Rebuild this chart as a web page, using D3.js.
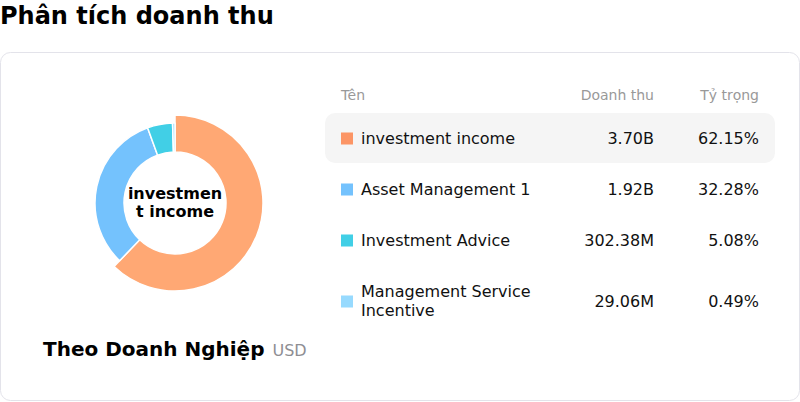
<!DOCTYPE html>
<html>
<head>
<meta charset="utf-8">
<script src="https://cdn.jsdelivr.net/npm/d3@7"></script>
<style>
  html, body { margin: 0; padding: 0; background: #fff; }
  body { width: 800px; height: 402px; overflow: hidden; font-family: "DejaVu Sans", sans-serif; }
  svg { display: block; }
</style>
</head>
<body>
<div id="chart"></div>
<script>
const categories = ["investment income", "Asset Management 1", "Investment Advice", "Management Service Incentive"];
const revenues = [3.70e9, 1.92e9, 302.38e6, 29.06e6];
const shares = [62.15, 32.28, 5.08, 0.49];
const legendColors = ["#fc9565", "#74c2fd", "#41cfe6", "#97dafe"];
const sliceColors = ["#ffa874", "#74c2fd", "#41cfe6", "#97dafe"];
const headers = ["Tên", "Doanh thu", "Tỷ trọng"];
const activeIndex = 0;

const width = 800, height = 402;

const svg = d3.select("#chart").append("svg")
    .attr("width", width)
    .attr("height", height);

// title
svg.append("text")
    .attr("x", 0)
    .attr("y", 24)
    .attr("font-size", 24)
    .attr("font-weight", "bold")
    .attr("fill", "#000")
    .text("Phân tích doanh thu");

// card
svg.append("rect")
    .attr("x", 0.5)
    .attr("y", 52.5)
    .attr("width", 799)
    .attr("height", 348)
    .attr("rx", 10)
    .attr("fill", "#fff")
    .attr("stroke", "#e3e3ea");

function formatRevenue(v) {
    if (v >= 1e9) return (v / 1e9).toFixed(2) + "B";
    if (v >= 1e6) return (v / 1e6).toFixed(2) + "M";
    return d3.format(",")(v);
}

// donut
const cx = 175, cy = 203;
const innerR = 51, outerR = 80, activeR = 88;

const pie = d3.pie().sort(null).value(d => d)(revenues);
const arc = d3.arc().innerRadius(innerR);

const g = svg.append("g").attr("transform", `translate(${cx},${cy})`);

g.selectAll("path")
    .data(pie)
    .enter()
    .append("path")
    .attr("d", (d, i) => arc.outerRadius(i === activeIndex ? activeR : outerR)(d))
    .attr("fill", (d, i) => sliceColors[i])
    .attr("stroke", "#fff")
    .attr("stroke-width", 1.5)
    .attr("stroke-linejoin", "round");

// center label, broken by character like css word-break
function breakChars(str, maxWidth, fontSize, weight) {
    const probe = svg.append("text")
        .attr("font-size", fontSize)
        .attr("font-weight", weight)
        .attr("visibility", "hidden");
    let lines = [];
    let cur = "";
    for (const ch of str) {
        probe.text(cur + ch);
        if (probe.node().getComputedTextLength() > maxWidth && cur !== "") {
            lines.push(cur);
            cur = ch === " " ? "" : ch;
        } else {
            cur += ch;
        }
    }
    if (cur) lines.push(cur);
    probe.remove();
    return lines;
}

const centerLines = breakChars(categories[activeIndex], 100, 16, "bold");
const centerText = g.append("text")
    .attr("text-anchor", "middle")
    .attr("font-size", 16)
    .attr("font-weight", "bold")
    .attr("fill", "#000");
centerText.selectAll("tspan")
    .data(centerLines)
    .enter()
    .append("tspan")
    .attr("x", 0)
    .attr("y", (d, i) => (i - (centerLines.length - 1) / 2) * 18 + 4.5)
    .text(d => d);

// bottom caption
const caption = svg.append("text")
    .attr("x", 43)
    .attr("y", 356)
    .attr("font-size", 20)
    .attr("fill", "#000");
caption.append("tspan")
    .attr("font-weight", "bold")
    .text("Theo Doanh Nghiệp");
caption.append("tspan")
    .attr("dx", 8)
    .attr("font-size", 16)
    .attr("fill", "#8e8e93")
    .text("USD");

// table
const colName = 361, colRev = 654, colShare = 759;
const table = svg.append("g");

table.selectAll("text.head")
    .data(headers)
    .enter()
    .append("text")
    .attr("class", "head")
    .attr("x", (d, i) => [341, colRev, colShare][i])
    .attr("y", 100)
    .attr("text-anchor", (d, i) => i === 0 ? "start" : "end")
    .attr("font-size", 14)
    .attr("fill", "#999")
    .text(d => d);

function wrapWords(str, maxWidth, fontSize) {
    const probe = svg.append("text").attr("font-size", fontSize).attr("visibility", "hidden");
    const words = str.split(" ");
    let lines = [], cur = "";
    words.forEach(w => {
        const test = cur ? cur + " " + w : w;
        probe.text(test);
        if (probe.node().getComputedTextLength() > maxWidth && cur) {
            lines.push(cur);
            cur = w;
        } else {
            cur = test;
        }
    });
    if (cur) lines.push(cur);
    probe.remove();
    return lines;
}

const lineH = 19;
let rowTop = 113;
const rows = categories.map((name, i) => {
    const lines = wrapWords(name, 190, 16);
    const h = 51 + (lines.length - 1) * 20;
    const r = { i, name, lines, top: rowTop, h };
    rowTop += h;
    return r;
});

table.selectAll("rect.hl")
    .data(rows.filter(r => r.i === activeIndex))
    .enter()
    .append("rect")
    .attr("x", 325)
    .attr("y", d => d.top)
    .attr("width", 450)
    .attr("height", 50)
    .attr("rx", 10)
    .attr("fill", "#f5f5f5");

const row = table.selectAll("g.row")
    .data(rows)
    .enter()
    .append("g")
    .attr("class", "row")
    .attr("transform", d => `translate(0,${d.top + d.h / 2})`);

row.append("rect")
    .attr("x", 341)
    .attr("y", -6)
    .attr("width", 12)
    .attr("height", 12)
    .attr("fill", d => legendColors[d.i]);

row.each(function(d) {
    const t = d3.select(this).append("text")
        .attr("font-size", 16)
        .attr("fill", "#111");
    t.selectAll("tspan")
        .data(d.lines)
        .enter()
        .append("tspan")
        .attr("x", colName)
        .attr("y", (l, k) => (k - (d.lines.length - 1) / 2) * lineH + 5)
        .text(l => l);
});

row.append("text")
    .attr("x", colRev)
    .attr("y", 5)
    .attr("text-anchor", "end")
    .attr("font-size", 16)
    .attr("fill", "#111")
    .text(d => formatRevenue(revenues[d.i]));

row.append("text")
    .attr("x", colShare)
    .attr("y", 5)
    .attr("text-anchor", "end")
    .attr("font-size", 16)
    .attr("fill", "#111")
    .text(d => shares[d.i].toFixed(2) + "%");
</script>
</body>
</html>
